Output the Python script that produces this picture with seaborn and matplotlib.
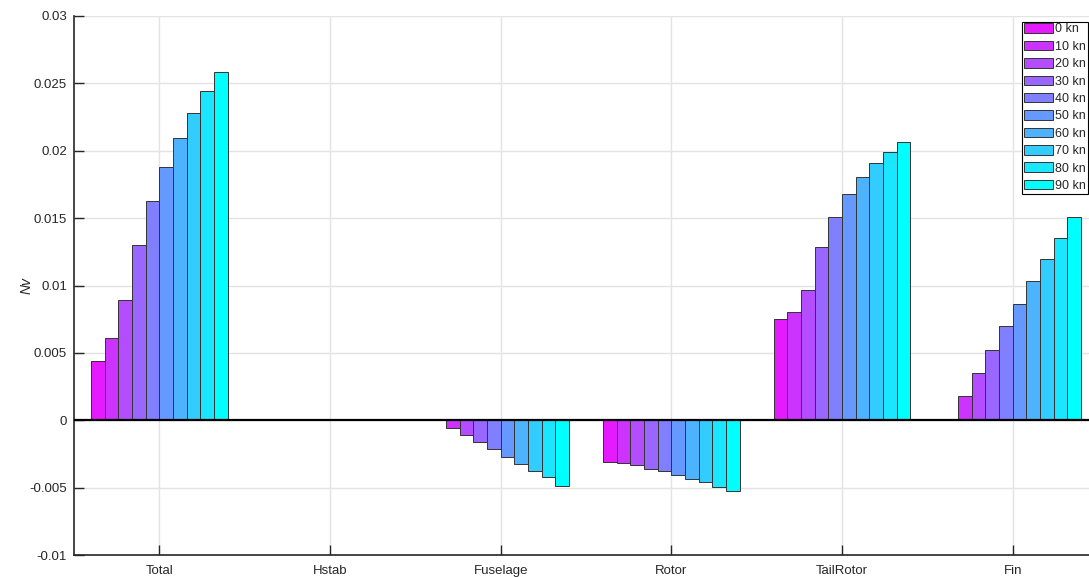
import pandas as pd
import matplotlib.pyplot as plt
import seaborn as sns

# componentes y velocidades
components = ["Total", "Hstab", "Fuselage", "Rotor", "TailRotor", "Fin"]
speeds = ["0 kn", "10 kn", "20 kn", "30 kn", "40 kn", "50 kn", "60 kn", "70 kn", "80 kn", "90 kn"]

# Nv por componente (una entrada por velocidad)
nv_total = [0.00441, 0.00614, 0.00890, 0.01298, 0.01626, 0.01881, 0.02093, 0.02283, 0.02441, 0.02581]
nv_hstab = [0.0, 0.0, 0.0, 0.00002, 0.00008, 0.0001, 0.0001, 0.00012, 0.00012, 0.00012]
nv_fuselage = [0.0, -0.00054, -0.00106, -0.00161, -0.00215, -0.00272, -0.00321, -0.00376, -0.00424, -0.00487]
nv_rotor = [-0.00311, -0.00316, -0.00331, -0.00363, -0.00380, -0.00410, -0.00439, -0.00459, -0.00494, -0.00526]
nv_tailrotor = [0.00753, 0.00800, 0.00968, 0.01287, 0.01506, 0.01679, 0.01802, 0.01909, 0.01993, 0.02064]
nv_fin = [0.0, 0.00178, 0.00353, 0.00524, 0.00699, 0.00864, 0.01032, 0.01195, 0.01350, 0.01506]

speed_colors = ["#e61aff", "#cc33ff", "#b34dff", "#9966ff", "#8080ff",
                "#6699ff", "#4db3ff", "#33ccff", "#1ae6ff", "#00ffff"]

rows = []
for comp, vals in zip(components, [nv_total, nv_hstab, nv_fuselage, nv_rotor, nv_tailrotor, nv_fin]):
    for spd, v in zip(speeds, vals):
        rows.append({"component": comp, "speed": spd, "Nv": v})
df = pd.DataFrame(rows)

sns.set_style("white")
plt.rcParams["font.family"] = ["Liberation Sans", "DejaVu Sans"]

fig = plt.figure(figsize=(10.89, 5.77), dpi=100)
ax = fig.add_axes([74 / 1089, 1 - 555 / 577, 1024 / 1089, 539 / 577])

sns.barplot(
    data=df,
    x="component",
    y="Nv",
    hue="speed",
    order=components,
    hue_order=speeds,
    palette=dict(zip(speeds, speed_colors)),
    width=0.8,
    errorbar=None,
    edgecolor="#333333",
    linewidth=0.7,
    saturation=1,
    ax=ax,
    zorder=2
)

ax.axhline(0, color="black", linewidth=1.6, zorder=3)

ax.set_xlim(-0.5, 5.5)
ax.set_ylim(-0.01, 0.03)
ax.set_yticks([-0.01, -0.005, 0, 0.005, 0.01, 0.015, 0.02, 0.025, 0.03])
ax.set_yticklabels(["-0.01", "-0.005", "0", "0.005", "0.01", "0.015", "0.02", "0.025", "0.03"])

ax.grid(True, color="#e3e3e3", linewidth=1)
ax.set_axisbelow(True)

ax.set_xlabel("")
ax.set_ylabel("Nv", fontsize=10, style="italic", labelpad=-3)

for side in ["top", "right"]:
    ax.spines[side].set_visible(False)
for side in ["left", "bottom"]:
    ax.spines[side].set_color("#262626")
    ax.spines[side].set_linewidth(1.2)

ax.tick_params(axis="y", left=True, direction="in", length=7, width=1, color="#262626",
               labelsize=9.5, labelcolor="#262626", pad=5)
ax.tick_params(axis="x", bottom=True, direction="in", length=7, width=1, color="#262626",
               labelsize=9.5, labelcolor="#262626", pad=7)

handles, labels = ax.get_legend_handles_labels()
ax.legend(
    handles, labels,
    loc="upper right",
    bbox_to_anchor=(1088 / 1089, 1 - 21.5 / 577),
    bbox_transform=fig.transFigure,
    fontsize=9,
    frameon=True,
    fancybox=False,
    edgecolor="black",
    framealpha=1,
    handlelength=2.3,
    handleheight=0.8,
    handletextpad=0.2,
    labelspacing=0.42,
    borderpad=0.15,
    borderaxespad=0
)
ax.get_legend().get_frame().set_linewidth(0.8)

plt.savefig("out.png", dpi=100)
plt.close()
